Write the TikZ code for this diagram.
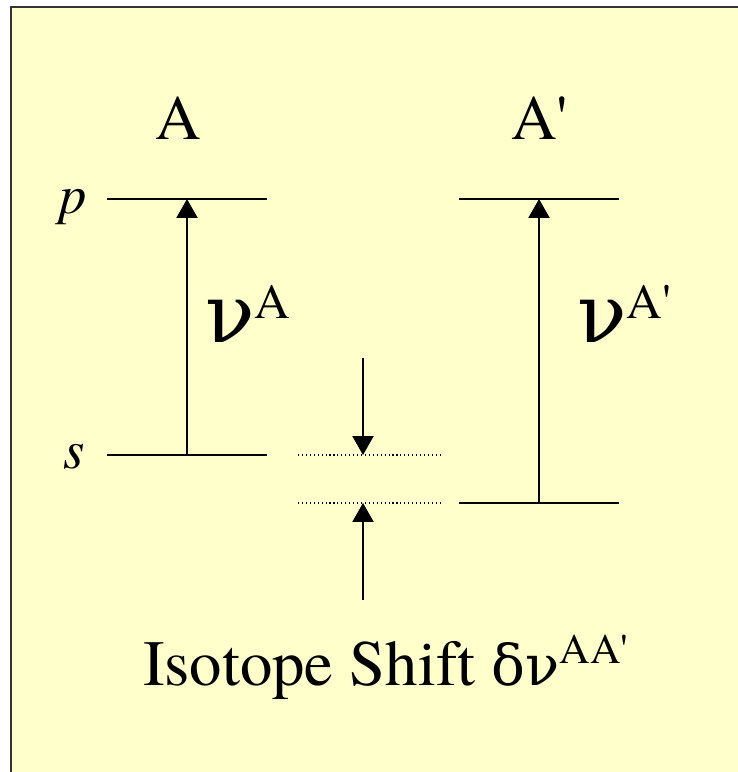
\documentclass[tikz,border=0pt]{standalone}
\usepackage{fontspec}
\setmainfont{texgyretermes}[Extension=.otf,UprightFont=*-regular,ItalicFont=*-italic,BoldFont=*-bold,BoldItalicFont=*-bolditalic]
\newfontfamily\grk{DejaVu Serif}
\usetikzlibrary{arrows.meta}
\definecolor{paper}{HTML}{FFFFCC}
\definecolor{frame}{HTML}{333333}
\newcommand{\fsz}[1]{\fontsize{#1pt}{#1pt}\selectfont}
\newcommand{\nusup}[1]{{\grk\fsz{58}ν}\raisebox{17pt}{\fsz{35}#1}}
\tikzset{
 level/.style={line width=1.3pt},
 shiftlevel/.style={line width=.8pt,dash pattern=on .8pt off 2pt},
 trans/.style={->,line width=1.3pt},
 lbl/.style={inner sep=0pt,anchor=base}
}
\begin{document}
\begin{tikzpicture}[x=1cm,y=1cm,>={Triangle[length=13.5pt,width=15pt]}]
 \useasboundingbox (0,0) rectangle (18.45,-19.3);
 \fill[paper] (0.275,-0.175) rectangle (18.8,-19.6);
 \draw[frame,line width=1.6pt] (0.275,-19.6)--(0.275,-0.175)--(18.8,-0.175);
 % isotope A
 \draw[level] (2.675,-4.975)--(6.675,-4.975);
 \draw[level] (2.675,-11.375)--(6.675,-11.375);
 \coordinate (pA) at (4.675,-4.975); \coordinate (sA) at (4.675,-11.375);
 \draw[trans] (sA)--(pA);
 % isotope A'
 \draw[level] (11.475,-4.975)--(15.475,-4.975);
 \draw[level] (11.475,-12.575)--(15.475,-12.575);
 \coordinate (pB) at (13.475,-4.975); \coordinate (sB) at (13.475,-12.575);
 \draw[trans] (sB)--(pB);
 % shift
 \draw[shiftlevel] (7.45,-11.375)--(11.075,-11.375);
 \draw[shiftlevel] (7.45,-12.575)--(11.075,-12.575);
 \coordinate (dtop) at (9.075,-8.95); \coordinate (dA) at (9.075,-11.375);
 \coordinate (dbot) at (9.075,-15.0); \coordinate (dB) at (9.075,-12.575);
 \draw[trans] (dtop)--(dA);
 \draw[trans] (dbot)--(dB);
 % labels
 \node[lbl] (labA) at (4.4625,-3.475) {\fsz{45}A};
 \node[lbl] (labB) at (13.49,-3.475) {\fsz{45}A\textquotesingle};
 \node[lbl] (labp) at (1.825,-5.325) {\fsz{39}\itshape p};
 \node[lbl] (labs) at (1.85,-11.7) {\fsz{39}\itshape s};
 \node[lbl,anchor=base west] (nuA) at (5.125,-8.55) {\nusup{A}};
 \node[lbl,anchor=base west] (nuB) at (14.425,-8.55) {\nusup{A\textquotesingle}};
 \node[lbl,anchor=base west] (shift) at (3.575,-17.125) {\fsz{46}Isotope Shift {\grk\fsz{40}δν}\raisebox{15.6pt}{\fsz{30}AA\textquotesingle}};
\end{tikzpicture}
\end{document}
